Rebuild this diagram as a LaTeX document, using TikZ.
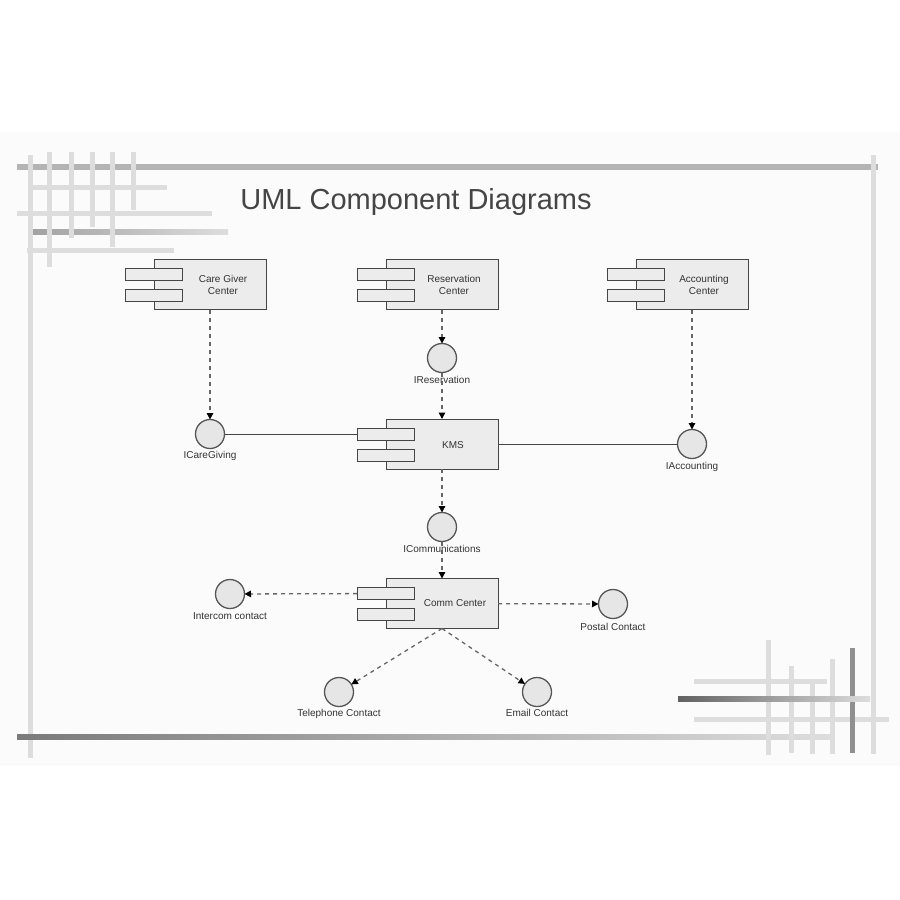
\documentclass[tikz,border=0pt]{standalone}
\usepackage{fontspec}
\setmainfont{Liberation Sans}
\usetikzlibrary{positioning,arrows.meta}

\definecolor{compfill}{HTML}{ECECEC}
\definecolor{compline}{HTML}{454545}
\definecolor{ifacefill}{HTML}{E6E6E6}
\definecolor{ifaceline}{HTML}{555555}
\definecolor{depline}{HTML}{666666}
\definecolor{txtcol}{HTML}{333333}
\definecolor{titlecol}{HTML}{454545}
\definecolor{slidebg}{HTML}{FBFBFB}
\definecolor{barlight}{HTML}{DDDDDD}
\definecolor{barmid}{HTML}{B4B4B4}
\definecolor{bardark}{HTML}{7A7A7A}

\tikzset{
  comp/.style={draw=compline, fill=compfill, line width=0.9pt, minimum width=112pt, minimum height=50pt,
    inner sep=0pt, outer sep=0pt},
  comptext/.style={align=center, text=txtcol, font=\fontsize{10}{12}\selectfont, inner sep=0pt},
  comptab/.style={draw=compline, fill=compfill, line width=0.9pt, minimum width=57pt, minimum height=12pt,
    inner sep=0pt, outer sep=0pt, anchor=north west},
  iface/.style={circle, draw=ifaceline, fill=ifacefill, line width=1.3pt, minimum size=29pt, inner sep=0pt, outer sep=0pt},
  ifacelabel/.style={text=txtcol, font=\fontsize{10}{12}\selectfont, inner sep=1pt},
  dep/.style={draw=depline, line width=1.3pt, dash pattern=on 4pt off 4pt, -{Triangle[length=6.5pt,width=6.5pt,color=black]}},
  assoc/.style={draw=compline, line width=0.9pt},
  bar/.style={line width=5pt}
}

\begin{document}
\begin{tikzpicture}[x=1pt, y=-1pt]

\useasboundingbox (0,0) rectangle (900,900);
\fill[slidebg] (0,132) rectangle (900,766);

\draw[bar, barlight] (33,187) -- (167,187);
\draw[bar, barlight] (17,213) -- (212,213);
\shade[left color=barmid!90!black, right color=barlight] (33,229.5) rectangle (228,234.5);
\draw[bar, barlight] (27,250) -- (174,250);
\draw[line width=6pt, barmid] (17,167) -- (878,167);
\draw[bar, barlight] (30,155) -- (30,758);
\draw[bar, barlight] (49,152) -- (49,267);
\draw[bar, barlight] (71,152) -- (71,238);
\draw[bar, barlight] (92,152) -- (92,227);
\draw[bar, barlight] (112,152) -- (112,247);
\draw[bar, barlight] (133,152) -- (133,210);

\draw[bar, barlight] (694,681) -- (827,681);
\draw[bar, barlight] (694,719) -- (889,719);
\shade[left color=bardark, right color=barlight] (17,734.5) rectangle (830,739.5);
\draw[bar, barlight] (768,640) -- (768,755);
\draw[bar, barlight] (791,666) -- (791,753);
\draw[bar, barlight] (812,680) -- (812,754);
\draw[bar, barlight] (832,659) -- (832,754);
\draw[bar, barmid!80!black] (852,648) -- (852,753);
\draw[bar, barlight] (873,155) -- (873,754);
\shade[left color=bardark!80!black, right color=barlight] (678,696.5) rectangle (870,701.5);

\node[text=titlecol, font=\fontsize{29}{32}\selectfont] (title) at (416,202) {UML Component Diagrams};

\node[comp] (care) at (210,284.5) {};
\node[comptab] (care_tab1) at ([xshift=-29pt, yshift=-9pt]care.north west) {};
\node[comptab] (care_tab2) at ([xshift=-29pt, yshift=-30pt]care.north west) {};
\node[comptext] (care_txt) at ([xshift=13pt]care.center) {Care Giver\\Center};
\node[comp] (resv) at (442,284.5) {};
\node[comptab] (resv_tab1) at ([xshift=-29pt, yshift=-9pt]resv.north west) {};
\node[comptab] (resv_tab2) at ([xshift=-29pt, yshift=-30pt]resv.north west) {};
\node[comptext] (resv_txt) at ([xshift=12pt]resv.center) {Reservation\\Center};
\node[comp] (acct) at (692,284.5) {};
\node[comptab] (acct_tab1) at ([xshift=-29pt, yshift=-9pt]acct.north west) {};
\node[comptab] (acct_tab2) at ([xshift=-29pt, yshift=-30pt]acct.north west) {};
\node[comptext] (acct_txt) at ([xshift=12pt]acct.center) {Accounting\\Center};
\node[comp] (kms) at (442,444) {};
\node[comptab] (kms_tab1) at ([xshift=-29pt, yshift=-9pt]kms.north west) {};
\node[comptab] (kms_tab2) at ([xshift=-29pt, yshift=-30pt]kms.north west) {};
\node[comptext] (kms_txt) at ([xshift=11pt, yshift=-1pt]kms.center) {KMS};
\node[comp] (comm) at (442,603.5) {};
\node[comptab] (comm_tab1) at ([xshift=-29pt, yshift=-9pt]comm.north west) {};
\node[comptab] (comm_tab2) at ([xshift=-29pt, yshift=-30pt]comm.north west) {};
\node[comptext] (comm_txt) at ([xshift=13pt]comm.center) {Comm Center};

\node[iface] (i_resv) at (442,358) {};
\node[iface] (i_care) at (210,434) {};
\node[iface] (i_acct) at (692,444) {};
\node[iface] (i_comm) at (442,527) {};
\node[iface] (i_icom) at (230,594) {};
\node[iface] (i_post) at (613,604) {};
\node[iface] (i_tel) at (339,692) {};
\node[iface] (i_mail) at (537,692) {};

\node[ifacelabel, below=2.5pt of i_resv] (i_resv_lbl) {IReservation};
\node[ifacelabel, below=1.5pt of i_care] (i_care_lbl) {ICareGiving};
\node[ifacelabel, below=2.5pt of i_acct] (i_acct_lbl) {IAccounting};
\node[ifacelabel, below=3pt of i_comm] (i_comm_lbl) {ICommunications};
\node[ifacelabel, below=2.5pt of i_icom] (i_icom_lbl) {Intercom contact};
\node[ifacelabel, below=3.5pt of i_post] (i_post_lbl) {Postal Contact};
\node[ifacelabel, below=2pt of i_tel] (i_tel_lbl) {Telephone Contact};
\node[ifacelabel, below=2pt of i_mail] (i_mail_lbl) {Email Contact};

\path (care) edge[dep] (i_care);
\path (resv) edge[dep] (i_resv);
\path (i_resv) edge[dep] (kms);
\path (acct) edge[dep] (i_acct);
\path (kms) edge[dep] (i_comm);
\path (i_comm) edge[dep] (comm);
\path (comm_tab1) edge[dep] (i_icom);
\path (comm) edge[dep] (i_post);
\path (comm.south) edge[dep] (i_tel);
\path (comm.south) edge[dep] (i_mail);
\path (i_care) edge[assoc] (kms_tab1);
\path (kms) edge[assoc] (i_acct);

\end{tikzpicture}
\end{document}
